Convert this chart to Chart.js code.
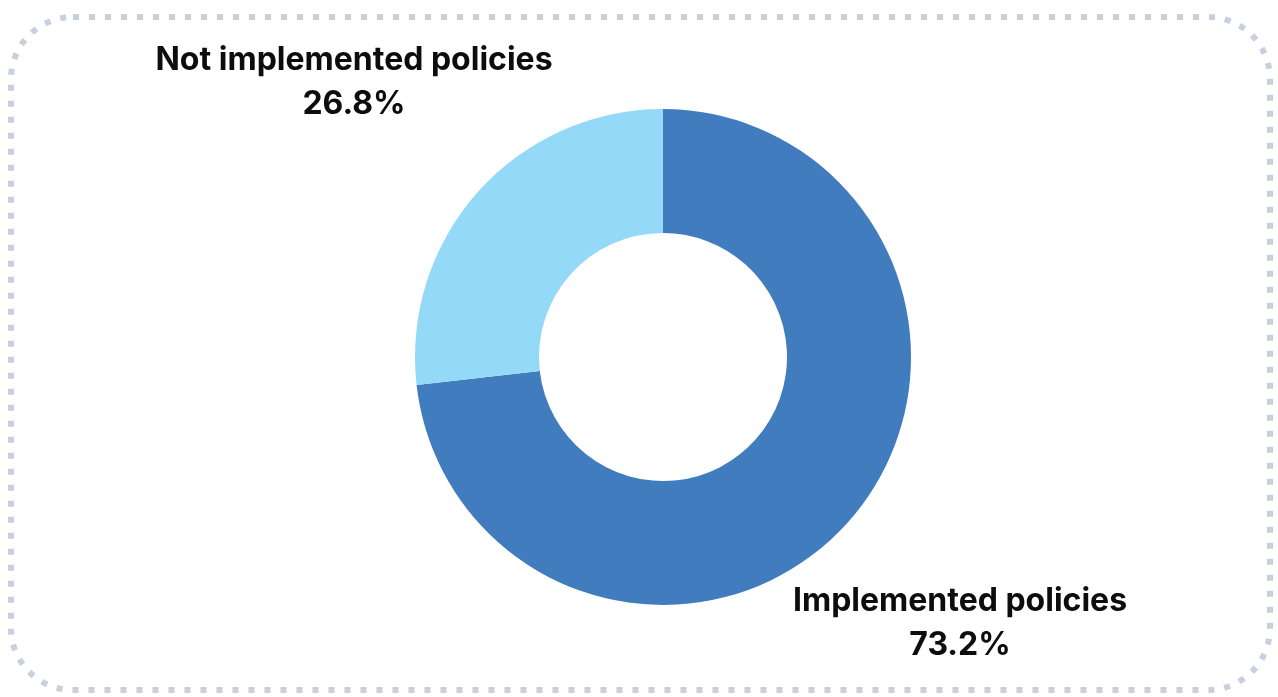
<!DOCTYPE html>
<html>
<head>
<meta charset="utf-8">
<script src="https://cdn.jsdelivr.net/npm/chart.js@4/dist/chart.umd.min.js"></script>
<style>
  html, body { margin: 0; padding: 0; background: #fff; }
  #wrap { width: 1278px; height: 697px; position: relative; }
</style>
</head>
<body>
<div id="wrap"><canvas id="policyChart" width="1278" height="697"></canvas></div>
<script>
  var labels = ['Implemented policies', 'Not implemented policies'];
  var shares = [73.2, 26.8];
  var colors = ['#417dbe', '#94d9f7'];

  // dashed rounded frame around the whole card
  var framePlugin = {
    id: 'frame',
    beforeDraw: function (chart) {
      var c = chart.ctx;
      c.save();
      c.strokeStyle = '#c6d0de';
      c.lineWidth = 6;
      c.setLineDash([6, 10]);
      c.beginPath();
      c.roundRect(11, 17, 1259, 673, 62);
      c.stroke();
      c.restore();
    }
  };

  // slice name + percentage drawn outside the ring
  var outsideLabels = {
    id: 'outsideLabels',
    afterDraw: function (chart) {
      var c = chart.ctx;
      var pos = [[960, 601], [354, 60]];
      c.save();
      c.fillStyle = '#0d0d0d';
      c.font = 'bold 32px Inter';
      c.textAlign = 'center';
      c.textBaseline = 'middle';
      labels.forEach(function (name, i) {
        c.fillText(name, pos[i][0], pos[i][1]);
        c.fillText(shares[i].toFixed(1) + '%', pos[i][0], pos[i][1] + 44);
      });
      c.restore();
    }
  };

  new Chart(document.getElementById('policyChart').getContext('2d'), {
    type: 'doughnut',
    data: {
      labels: labels,
      datasets: [{ data: shares, backgroundColor: colors, borderWidth: 0 }]
    },
    options: {
      responsive: false,
      animation: false,
      cutout: '50%',
      layout: { padding: { top: 109, bottom: 92, left: 200, right: 152 } },
      plugins: { legend: { display: false }, tooltip: { enabled: false } }
    },
    plugins: [framePlugin, outsideLabels]
  });
</script>
</body>
</html>
